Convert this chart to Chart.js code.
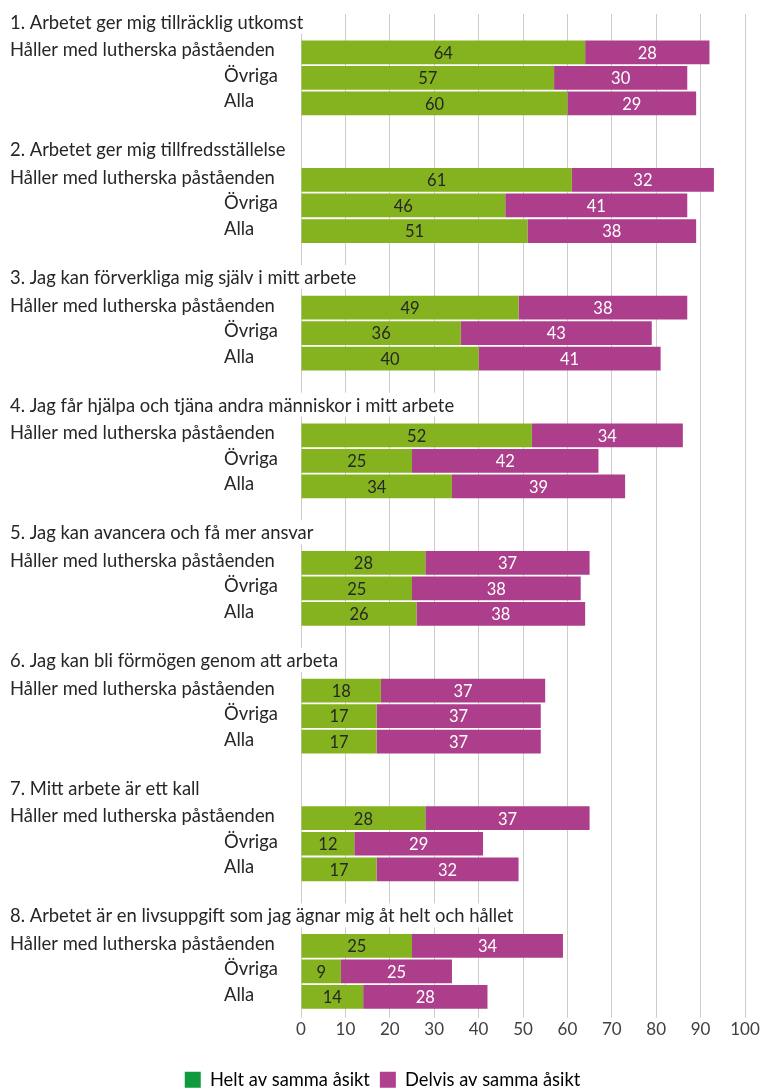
<!DOCTYPE html>
<html>
<head>
<meta charset="utf-8">
<script src="https://cdn.jsdelivr.net/npm/chart.js@4/dist/chart.umd.min.js"></script>
<style>
  html, body { margin: 0; padding: 0; background: #fff; overflow: hidden; }
  #wrap { width: 765px; height: 1099px; position: relative; }
</style>
</head>
<body>
<div id="wrap"><canvas id="chart"></canvas></div>
<script>
// question titles, one per group
const groupTitles = [
    "1. Arbetet ger mig tillräcklig utkomst",
    "2. Arbetet ger mig tillfredsställelse",
    "3. Jag kan förverkliga mig själv i mitt arbete",
    "4. Jag får hjälpa och tjäna andra människor i mitt arbete",
    "5. Jag kan avancera och få mer ansvar",
    "6. Jag kan bli förmögen genom att arbeta",
    "7. Mitt arbete är ett kall",
    "8. Arbetet är en livsuppgift som jag ägnar mig åt helt och hållet"
];
const rowLabels = ["Håller med lutherska påståenden", "Övriga", "Alla"];

// Helt av samma åsikt (per group: Håller, Övriga, Alla)
const heltValues = [
    [64, 57, 60],
    [61, 46, 51],
    [49, 36, 40],
    [52, 25, 34],
    [28, 25, 26],
    [18, 17, 17],
    [28, 12, 17],
    [25, 9, 14]
];
// Delvis av samma åsikt
const delvisValues = [
    [28, 30, 29],
    [32, 41, 38],
    [38, 43, 41],
    [34, 42, 39],
    [37, 38, 38],
    [37, 37, 37],
    [37, 29, 32],
    [34, 25, 28]
];
const xTicks = [0, 10, 20, 30, 40, 50, 60, 70, 80, 90, 100];

const FONT = "Lato, 'Open Sans', sans-serif";
const GREEN = "#85b31f";
const MAGENTA = "#ad3e8b";

// flat category list: title row, three bars, spacer (none after the last group)
const labels = [];
const rowKind = [];
const heltData = [];
const delvisData = [];
groupTitles.forEach((t, g) => {
    labels.push(t); rowKind.push("title"); heltData.push(null); delvisData.push(null);
    rowLabels.forEach((r, i) => {
        labels.push(r); rowKind.push(i === 0 ? "long" : "short");
        heltData.push(heltValues[g][i]); delvisData.push(delvisValues[g][i]);
    });
    if (g < groupTitles.length - 1) {
        labels.push(""); rowKind.push("blank"); heltData.push(null); delvisData.push(null);
    }
});

const labelPlugin = {
    id: "rowLabels",
    afterDraw(chart) {
        const ctx = chart.ctx;
        const yScale = chart.scales.y;
        ctx.save();
        ctx.font = "18.4px " + FONT;
        ctx.textBaseline = "middle";
        ctx.textAlign = "left";
        labels.forEach((lab, i) => {
            if (!lab) return;
            const y = yScale.getPixelForValue(i);
            if (rowKind[i] === "title") {
                const w = ctx.measureText(lab).width;
                ctx.fillStyle = "#fff";
                ctx.fillRect(8, y - 17, w + 6, 24);
                ctx.fillStyle = "#262626";
                ctx.fillText(lab, 10, y - 4);
            } else {
                ctx.fillStyle = "#262626";
                ctx.fillText(lab, rowKind[i] === "long" ? 10 : 224, y - 2);
            }
        });

        // values centred in each bar segment
        ctx.font = "16.5px " + FONT;
        ctx.textAlign = "center";
        chart.data.datasets.forEach((ds, di) => {
            const meta = chart.getDatasetMeta(di);
            meta.data.forEach((el, i) => {
                const v = ds.data[i];
                if (v == null) return;
                ctx.fillStyle = di === 0 ? "#262626" : "#ffffff";
                ctx.fillText(String(v), (el.x + el.base) / 2, el.y + 1);
            });
        });
        ctx.restore();
    }
};

new Chart(document.getElementById("chart"), {
    type: "bar",
    data: {
        labels: labels,
        datasets: [
            { label: "Helt av samma åsikt", data: heltData, backgroundColor: GREEN, borderWidth: 0 },
            { label: "Delvis av samma åsikt", data: delvisData, backgroundColor: MAGENTA, borderWidth: 0 }
        ]
    },
    options: {
        indexAxis: "y",
        responsive: true,
        maintainAspectRatio: false,
        animation: false,
        layout: { padding: { left: 0, right: 0, top: 14, bottom: 0 } },
        datasets: { bar: { categoryPercentage: 1, barPercentage: 0.93 } },
        scales: {
            x: {
                stacked: true,
                min: 0,
                max: 100,
                afterBuildTicks: (axis) => { axis.ticks = xTicks.map(v => ({ value: v })); },
                afterFit: (axis) => { axis.height = 51; },
                grid: { color: "#cccccc", lineWidth: 1, tickLength: 8, drawTicks: true },
                border: { display: false },
                ticks: { color: "#404040", font: { family: FONT, size: 17 }, padding: 2 }
            },
            y: {
                stacked: true,
                display: true,
                grid: { display: false },
                border: { display: false },
                ticks: { display: false },
                afterFit: (axis) => { axis.width = 301; }
            },
            yRight: {
                type: "linear",
                position: "right",
                display: true,
                grid: { display: false },
                border: { display: false },
                ticks: { display: false },
                afterFit: (axis) => { axis.width = 20; }
            }
        },
        plugins: {
            legend: {
                position: "bottom",
                labels: {
                    color: "#404040",
                    font: { family: FONT, size: 18.3 },
                    boxWidth: 16,
                    boxHeight: 16,
                    padding: 10,
                    generateLabels: () => [
                        { text: "Helt av samma åsikt", fillStyle: "#0f9a3d", strokeStyle: "#0f9a3d", lineWidth: 0, datasetIndex: 0 },
                        { text: "Delvis av samma åsikt", fillStyle: "#b0418f", strokeStyle: "#b0418f", lineWidth: 0, datasetIndex: 1 }
                    ]
                }
            },
            tooltip: { enabled: false }
        }
    },
    plugins: [labelPlugin]
});
</script>
</body>
</html>
